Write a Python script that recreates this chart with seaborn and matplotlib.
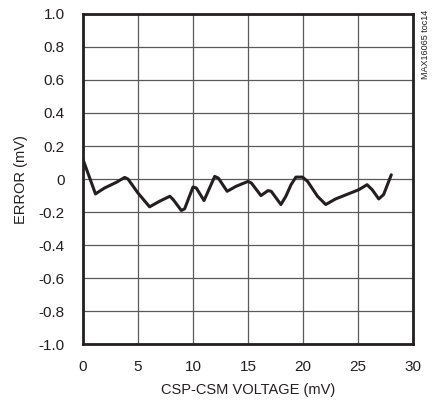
import matplotlib

matplotlib.use("Agg")

import matplotlib.pyplot as plt
import pandas as pd
import seaborn as sns

# values
voltage_mv = [
    0.0, 0.06, 1.15, 1.5, 1.97, 3.03, 3.8, 4.1, 5.0, 6.06, 6.97, 7.9, 8.2,
    8.94, 9.24, 10.0, 10.3, 11.0, 11.97, 12.3, 13.1, 13.9, 15.0, 15.3,
    16.17, 16.8, 17.1, 17.98, 18.43, 18.9, 19.34, 19.94, 20.4, 21.3,
    22.05, 22.95, 24.16, 25.06, 25.8, 26.26, 26.86, 27.3, 28.0,
]
error_mv = [
    0.12, 0.11, -0.09, -0.074, -0.054, -0.02, 0.01, 0.0, -0.084, -0.168,
    -0.134, -0.104, -0.124, -0.19, -0.18, -0.048, -0.054, -0.13, 0.016,
    0.006, -0.074, -0.044, -0.014, -0.024, -0.1, -0.07, -0.074, -0.154,
    -0.104, -0.034, 0.012, 0.012, -0.014, -0.104, -0.154, -0.12, -0.088,
    -0.064, -0.034, -0.064, -0.12, -0.094, 0.026,
]

x_ticks = [0, 5, 10, 15, 20, 25, 30]
y_ticks = [1.0, 0.8, 0.6, 0.4, 0.2, 0.0, -0.2, -0.4, -0.6, -0.8, -1.0]
y_labels = ["1.0", "0.8", "0.6", "0.4", "0.2", "0", "-0.2", "-0.4",
            "-0.6", "-0.8", "-1.0"]


def main():
    sns.set_style("white")
    plt.rcParams["font.family"] = ["Liberation Sans", "DejaVu Sans"]

    df = pd.DataFrame({"voltage": voltage_mv, "error": error_mv})

    fig = plt.figure(figsize=(4.36, 4.07), dpi=100)
    ax = fig.add_axes([0.190, 0.154, 0.758, 0.812])

    sns.lineplot(
        data=df,
        x="voltage",
        y="error",
        ax=ax,
        color="#231f20",
        linewidth=2.2,
        solid_joinstyle="round",
        solid_capstyle="round",
    )

    ax.set_xlim(0, 30)
    ax.set_ylim(-1.0, 1.0)
    ax.set_xticks(x_ticks)
    ax.set_xticklabels([str(t) for t in x_ticks])
    ax.set_yticks(y_ticks)
    ax.set_yticklabels(y_labels)

    ax.grid(True, color="#5a5a5a", linewidth=0.9)
    ax.set_axisbelow(True)
    for spine in ax.spines.values():
        spine.set_visible(True)
        spine.set_color("#231f20")
        spine.set_linewidth(2.0)

    ax.tick_params(axis="both", length=0, labelsize=11, colors="#231f20")
    ax.tick_params(axis="x", pad=11)
    ax.tick_params(axis="y", pad=13)
    ax.set_xlabel("CSP-CSM VOLTAGE (mV)", fontsize=10.5, color="#231f20",
                  labelpad=7)
    ax.set_ylabel("ERROR (mV)", fontsize=10.5, color="#231f20", labelpad=8)

    fig.text(0.975, 0.975, "MAX16065 toc14", rotation=90, fontsize=6.5,
             ha="center", va="top", color="#231f20")

    fig.savefig("out.png", dpi=100)


if __name__ == "__main__":
    main()
